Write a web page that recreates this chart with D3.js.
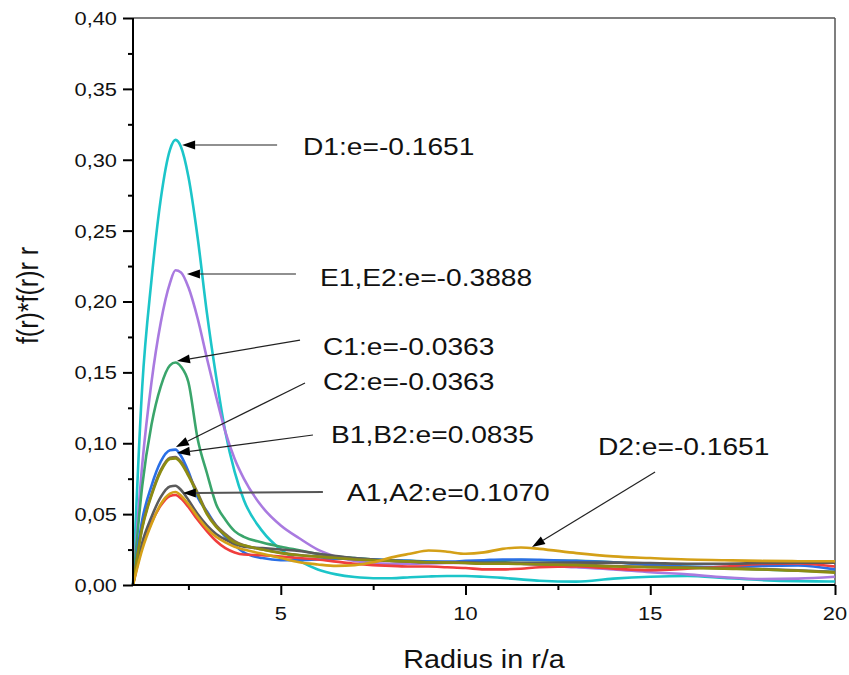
<!DOCTYPE html>
<html>
<head>
<meta charset="utf-8">
<script src="https://cdn.jsdelivr.net/npm/d3@7"></script>
<style>
  body { margin: 0; background: #fff; }
  text { font-family: Arial, "Liberation Sans", sans-serif; fill: #111; }
</style>
</head>
<body>
<div class="chart"></div>
<script>
var svgWidth = 849;
var svgHeight = 675;

var margin = { top: 18, right: 14, bottom: 90, left: 133 };
var width = svgWidth - margin.left - margin.right;
var height = svgHeight - margin.top - margin.bottom;

// radius grid shared by all curves
var radius = [1, 1.25, 1.5, 1.75, 2, 2.15, 2.3, 2.5, 2.75, 3, 3.25, 3.5, 3.75, 4, 4.5, 5, 5.5, 6, 6.5, 7, 7.5, 8, 8.5, 9, 9.5, 10, 10.5, 11, 11.5, 12, 13, 14, 15, 16, 17, 18, 19, 20];

var cyanD1 = [0, 0.14, 0.215, 0.272, 0.307, 0.314, 0.309, 0.288, 0.245, 0.192, 0.147, 0.108, 0.080, 0.060, 0.038, 0.025, 0.017, 0.011, 0.0075, 0.0056, 0.0048, 0.0048, 0.0055, 0.006, 0.0063, 0.0063, 0.0058, 0.005, 0.004, 0.003, 0.0024, 0.0045, 0.0058, 0.0063, 0.005, 0.0035, 0.0027, 0.0025];
var purpleE = [0, 0.085, 0.143, 0.185, 0.213, 0.222, 0.2205, 0.210, 0.188, 0.160, 0.133, 0.108, 0.089, 0.075, 0.055, 0.042, 0.033, 0.025, 0.020, 0.017, 0.0155, 0.015, 0.015, 0.0152, 0.0155, 0.0157, 0.0157, 0.0155, 0.015, 0.014, 0.0125, 0.011, 0.009, 0.0075, 0.0055, 0.0042, 0.0045, 0.0058];
var greenC1 = [0, 0.07, 0.113, 0.140, 0.155, 0.157, 0.154, 0.143, 0.103, 0.079, 0.057, 0.046, 0.038, 0.034, 0.030, 0.027, 0.0245, 0.022, 0.020, 0.019, 0.018, 0.0175, 0.017, 0.0165, 0.016, 0.016, 0.0165, 0.017, 0.0176, 0.0175, 0.017, 0.016, 0.0145, 0.013, 0.012, 0.011, 0.010, 0.0094];
var blueC2 = [0, 0.046, 0.070, 0.087, 0.095, 0.0955, 0.091, 0.080, 0.062, 0.052, 0.042, 0.034, 0.028, 0.023, 0.019, 0.0175, 0.0175, 0.018, 0.0185, 0.0185, 0.018, 0.0175, 0.017, 0.0165, 0.0165, 0.017, 0.0175, 0.018, 0.018, 0.0178, 0.017, 0.016, 0.014, 0.0128, 0.0127, 0.0135, 0.0138, 0.011];
var brownB2 = [0, 0.041, 0.064, 0.081, 0.0898, 0.0903, 0.087, 0.078, 0.065, 0.051, 0.042, 0.036, 0.031, 0.028, 0.025, 0.0228, 0.0212, 0.0202, 0.0192, 0.0182, 0.0176, 0.0171, 0.0166, 0.0161, 0.0159, 0.0156, 0.0152, 0.0151, 0.015, 0.0148, 0.0143, 0.0134, 0.0128, 0.0124, 0.0119, 0.0113, 0.0104, 0.0092];
var oliveB1 = [0, 0.040, 0.063, 0.080, 0.089, 0.0893, 0.086, 0.077, 0.064, 0.050, 0.041, 0.035, 0.030, 0.028, 0.025, 0.0225, 0.021, 0.020, 0.019, 0.018, 0.0175, 0.017, 0.0165, 0.016, 0.0158, 0.0155, 0.015, 0.015, 0.0148, 0.0145, 0.014, 0.013, 0.0125, 0.012, 0.0115, 0.011, 0.010, 0.0087];
var grayA1 = [0, 0.030, 0.048, 0.062, 0.0695, 0.070, 0.067, 0.060, 0.050, 0.042, 0.036, 0.032, 0.029, 0.027, 0.026, 0.025, 0.024, 0.022, 0.0205, 0.019, 0.018, 0.017, 0.0165, 0.016, 0.0159, 0.0158, 0.0157, 0.0157, 0.0157, 0.0157, 0.0158, 0.0158, 0.0155, 0.015, 0.015, 0.0155, 0.0158, 0.0158];
var goldD2 = [0, 0.025, 0.043, 0.057, 0.0645, 0.0656, 0.063, 0.057, 0.048, 0.040, 0.034, 0.030, 0.027, 0.025, 0.022, 0.019, 0.016, 0.0145, 0.0135, 0.014, 0.016, 0.0195, 0.022, 0.0243, 0.0235, 0.022, 0.023, 0.0255, 0.0265, 0.0255, 0.0225, 0.0202, 0.019, 0.018, 0.0175, 0.017, 0.0168, 0.0167];
var redA2 = [0, 0.027, 0.044, 0.056, 0.0628, 0.0635, 0.061, 0.055, 0.046, 0.038, 0.031, 0.026, 0.023, 0.0215, 0.021, 0.020, 0.019, 0.018, 0.0165, 0.015, 0.014, 0.0135, 0.013, 0.013, 0.0125, 0.012, 0.011, 0.011, 0.0115, 0.0125, 0.013, 0.0115, 0.0105, 0.0115, 0.013, 0.0148, 0.0152, 0.013];

var seriesValues = [cyanD1, purpleE, greenC1, blueC2, redA2, grayA1, brownB2, oliveB1, goldD2];
var seriesColors = ["#1cc5c9", "#a97ae0", "#3aa56b", "#2a6fe6", "#f03d3d", "#5b5b5b", "#7d6a58", "#8c8c12", "#d4a017"];

// annotation texts
var annoText = ["D1:e=-0.1651", "E1,E2:e=-0.3888", "C1:e=-0.0363", "C2:e=-0.0363", "B1,B2:e=0.0835", "A1,A2:e=0.1070", "D2:e=-0.1651"];

var svg = d3.select(".chart")
  .append("svg")
  .attr("width", svgWidth)
  .attr("height", svgHeight);

var chartGroup = svg.append("g")
  .attr("transform", `translate(${margin.left}, ${margin.top})`);

var xScale = d3.scaleLinear().domain([1, 20]).range([0, width]);
var yScale = d3.scaleLinear().domain([0, 0.40]).range([height, 0]);

// the original picture is a bit wider than tall, so text gets a horizontal stretch
var stretch = 1.15;
function addText(g, x, y, str, size, anchor) {
  return g.append("g")
    .attr("transform", `translate(${x}, ${y}) scale(${stretch}, 1)`)
    .append("text")
    .attr("text-anchor", anchor || "start")
    .attr("dominant-baseline", "central")
    .style("font-size", size + "px")
    .text(str);
}

// frame (top and right)
chartGroup.append("line")
  .attr("x1", 0).attr("x2", width).attr("y1", 0).attr("y2", 0)
  .attr("stroke", "#555").attr("stroke-width", 1.5);
chartGroup.append("line")
  .attr("x1", width).attr("x2", width).attr("y1", 0).attr("y2", height)
  .attr("stroke", "#555").attr("stroke-width", 1.5);

// curves
var line = d3.line()
  .x(d => xScale(d[0]))
  .y(d => yScale(d[1]))
  .curve(d3.curveMonotoneX);

seriesValues.forEach(function (vals, i) {
  chartGroup.append("path")
    .datum(radius.map((r, j) => [r, vals[j]]))
    .attr("fill", "none")
    .attr("stroke", seriesColors[i])
    .attr("stroke-width", 2.6)
    .attr("stroke-linejoin", "round")
    .attr("d", line);
});

// axes
var bottomAxis = d3.axisBottom(xScale).tickValues([5, 10, 15, 20]).tickSize(10).tickFormat("");
var bottomMinor = d3.axisBottom(xScale).tickValues([2.5, 7.5, 12.5, 17.5]).tickSize(5).tickFormat("");
var leftAxis = d3.axisLeft(yScale).tickValues(d3.range(0, 0.401, 0.05)).tickSize(10).tickFormat("");
var leftMinor = d3.axisLeft(yScale).tickValues(d3.range(0.025, 0.4, 0.05)).tickSize(5).tickFormat("");

[bottomAxis, bottomMinor].forEach(function (ax) {
  chartGroup.append("g")
    .attr("transform", `translate(0, ${height})`)
    .call(ax)
    .call(g => g.selectAll("path, line").attr("stroke", "#000").attr("stroke-width", 2));
});
[leftAxis, leftMinor].forEach(function (ax) {
  chartGroup.append("g")
    .call(ax)
    .call(g => g.selectAll("path, line").attr("stroke", "#000").attr("stroke-width", 2));
});
chartGroup.selectAll(".domain").attr("d", null);
chartGroup.append("line")
  .attr("x1", 0).attr("x2", width).attr("y1", height).attr("y2", height)
  .attr("stroke", "#000").attr("stroke-width", 2);
chartGroup.append("line")
  .attr("x1", 0).attr("x2", 0).attr("y1", 0).attr("y2", height)
  .attr("stroke", "#000").attr("stroke-width", 2);

// tick labels
var yFmt = d => d3.format(".2f")(d).replace(".", ",");
d3.range(0, 0.401, 0.05).forEach(function (v) {
  addText(chartGroup, -16, yScale(v), yFmt(v), 19, "end");
});
[5, 10, 15, 20].forEach(function (v) {
  addText(chartGroup, xScale(v), height + 28, String(v), 19, "middle");
});

// axis titles
addText(chartGroup, width / 2, height + 75, "Radius in r/a", 25, "middle");
chartGroup.append("text")
  .attr("transform", `translate(${-105}, ${height / 2 - 6}) rotate(-90) scale(1, ${stretch})`)
  .attr("text-anchor", "middle")
  .attr("dominant-baseline", "central")
  .style("font-size", "25px")
  .text("f(r)*f(r)r r");

// annotations: [tipX, tipY, tailX, tailY, textX, textY] in data units
var annoPos = [
  [2.33, 0.3104, 4.90, 0.3104, 5.60, 0.309],
  [2.46, 0.2194, 5.41, 0.2194, 6.06, 0.2166],
  [2.19, 0.158, 5.52, 0.1728, 6.14, 0.1679],
  [2.16, 0.0974, 5.655, 0.1425, 6.14, 0.1432],
  [2.19, 0.0931, 5.87, 0.1058, 6.36, 0.1058],
  [2.35, 0.0649, 6.14, 0.0656, 6.79, 0.0649],
  [11.80, 0.0268, 15.13, 0.0797, 13.585, 0.0974]
];

var annoGroup = chartGroup.append("g");
annoPos.forEach(function (p, i) {
  var tx = xScale(p[0]), ty = yScale(p[1]);
  var sx = xScale(p[2]), sy = yScale(p[3]);
  var ang = Math.atan2(ty - sy, tx - sx);
  var len = 13, hw = 4.5;
  var bx = tx - len * Math.cos(ang), by = ty - len * Math.sin(ang);
  var isA = i === 5;
  annoGroup.append("line")
    .attr("x1", sx).attr("y1", sy).attr("x2", bx).attr("y2", by)
    .attr("stroke", isA ? "#555" : "#222")
    .attr("stroke-width", isA ? 2 : 1.2);
  annoGroup.append("path")
    .attr("d", `M${tx},${ty}L${bx + hw * Math.sin(ang)},${by - hw * Math.cos(ang)}L${bx - hw * Math.sin(ang)},${by + hw * Math.cos(ang)}Z`)
    .attr("fill", "#000");
  addText(annoGroup, xScale(p[4]), yScale(p[5]), annoText[i], 24.5, "start");
});
</script>
</body>
</html>
